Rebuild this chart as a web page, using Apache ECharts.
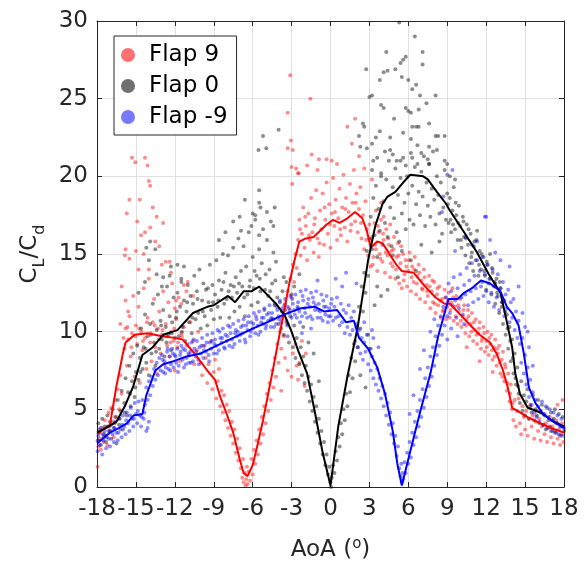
<!DOCTYPE html>
<html>
<head>
<meta charset="utf-8">
<script src="https://cdn.jsdelivr.net/npm/echarts@6/dist/echarts.min.js"></script>
<style>
html,body{margin:0;padding:0;background:#fff;}
#c{width:584px;height:570px;}
</style>
</head>
<body>
<div id="c"></div>
<script>
// ---------- DATA ----------
const xTicks = [-18,-15,-12,-9,-6,-3,0,3,6,9,12,15,18];
const yTicks = [0,5,10,15,20,25,30];
const seriesNames = ['Flap 9','Flap 0','Flap -9'];

// mean lines
const flap9Line = [[-18,3.4],[-17.5,3.7],[-17,4.0],[-16.5,6.5],[-16,8.6],[-15.8,9.3],[-15.1,9.8],[-14.1,9.9],[-13,9.7],[-12,9.6],[-11.4,9.5],[-10.4,8.5],[-9.5,7.5],[-8.9,6.9],[-8.5,5.8],[-8,4.7],[-7.5,3.5],[-7,1.8],[-6.7,0.9],[-6.4,0.7],[-6.0,1.4],[-5.6,2.8],[-5.2,4.3],[-4.8,6.0],[-4.4,7.7],[-4.0,9.5],[-3.6,11.2],[-3.2,13.0],[-2.8,14.5],[-2.4,15.8],[-1.9,16.0],[-1.3,16.1],[-0.8,16.5],[-0.3,16.9],[0.2,17.2],[0.7,17.0],[1.3,17.3],[1.9,17.7],[2.45,17.3],[2.8,16.5],[3.1,15.4],[3.6,15.8],[4.0,15.7],[4.4,15.2],[5.0,14.4],[5.5,13.9],[6.4,13.8],[6.8,13.4],[7.3,12.9],[8.1,12.2],[8.8,11.8],[9.2,11.8],[10.0,11.1],[10.8,10.4],[11.5,9.8],[12.3,9.3],[12.8,8.6],[13.3,7.5],[13.7,6.3],[14.0,5.1],[14.6,4.8],[15.2,4.5],[16.2,4.1],[17.0,3.8],[18.0,3.5]];
const flap0Line = [[-18,3.5],[-17.3,3.8],[-16.5,4.2],[-15.8,5.3],[-15.2,6.5],[-14.5,8.5],[-13.7,9.0],[-12.9,9.8],[-11.8,10.1],[-10.6,11.2],[-9.5,11.6],[-9.0,11.7],[-7.9,12.3],[-7.35,11.9],[-6.7,12.6],[-6.1,12.6],[-5.5,12.9],[-4.9,12.4],[-4.2,11.8],[-3.5,11.0],[-3.0,10.0],[-2.5,8.8],[-1.8,7.3],[-1.2,4.8],[-0.6,2.2],[0,0.1],[0.6,3.9],[1.3,7.1],[2.1,10.3],[2.6,13.0],[2.9,14.6],[3.45,16.8],[4.0,18.2],[4.4,18.7],[5.0,19.0],[5.6,19.6],[6.15,20.1],[7.15,20.0],[7.5,19.8],[8.2,19.0],[8.85,18.3],[9.2,17.8],[10.3,16.4],[11.3,15.1],[12.2,13.7],[13.1,12.5],[13.5,11.0],[14.0,9.0],[14.25,7.3],[14.6,6.0],[15.2,5.1],[16.2,4.8],[17.2,4.2],[18,3.9]];
const flapM9Line = [[-18,2.8],[-17,3.5],[-16.3,3.8],[-15.7,4.1],[-15.2,4.6],[-14.5,4.7],[-14.2,5.9],[-13.5,7.5],[-12.9,7.9],[-12.1,8.1],[-11.1,8.4],[-10.0,8.6],[-9.0,9.0],[-7.5,9.6],[-6.0,10.2],[-4.9,10.6],[-3.6,11.1],[-2.3,11.5],[-1.2,11.6],[-0.5,11.3],[0.5,11.4],[1.2,10.6],[1.8,10.7],[2.2,9.6],[2.9,8.9],[3.6,7.7],[4.2,6.0],[4.8,3.6],[5.15,1.5],[5.5,0.1],[6.15,2.3],[6.9,4.8],[7.7,7.3],[8.3,9.7],[9.1,12.1],[9.8,12.1],[10.3,12.5],[10.9,12.8],[11.6,13.3],[12.3,13.1],[13.1,12.6],[13.6,11.6],[14.0,11.2],[14.5,10.4],[14.9,8.6],[15.3,6.4],[15.8,5.4],[16.4,4.7],[17.0,4.3],[18,3.8]];

// raw measurement points
const flap9Pts = [
[-17.95,1.3],[-17.9,2.6],[-17.8,3.1],[-17.7,2.4],[-17.6,3.8],[-17.5,2.9],[-17.4,4.3],[-17.3,3.3],[-17.2,2.7],[-17.1,4.8],[-17.0,3.6],[-16.9,5.1],[-16.8,4.2],[-16.7,3.2],[-16.6,5.6],[-16.5,4.5],[-16.4,6.3],[-16.3,5.0],[-16.2,7.2],[-16.1,6.0],
[-15.9,8.9],[-15.8,10.2],[-15.7,7.8],[-15.6,9.5],[-15.5,11.0],[-15.4,8.4],[-15.3,9.9],[-15.2,12.3],[-15.1,7.1],[-15.0,10.4],[-14.9,9.2],[-14.8,11.6],[-14.7,6.7],[-14.6,10.0],[-14.5,8.8],[-14.4,12.8],[-14.3,9.6],[-14.2,7.6],[-14.1,10.9],[-14.0,13.4],[-13.9,9.3],[-13.8,8.1],[-13.7,10.6],[-13.6,12.1],[-13.5,9.0],[-13.4,7.3],[-13.3,10.2],[-13.2,11.3],[-13.1,8.6],[-13.0,9.8],[-12.9,12.6],[-12.8,7.9],[-12.7,10.5],[-12.6,9.1],[-12.5,11.9],[-12.4,8.4],[-12.3,10.0],[-12.2,13.1],[-12.1,9.4],[-12.0,7.5],[-11.9,10.8],[-11.8,9.0],[-11.7,12.2],[-11.6,8.1],[-11.5,9.9],
[-15.3,21.2],[-15.05,20.9],[-14.3,21.2],[-14.1,20.7],[-14.0,19.7],[-13.9,19.4],[-15.5,18.5],[-14.7,18.5],[-15.7,17.6],[-13.7,18.0],[-13.4,17.4],[-14.9,17.1],[-12.9,17.0],[-13.9,16.7],[-14.3,16.4],[-14.6,16.2],[-15.8,15.3],[-15.0,15.2],[-15.5,14.7],[-13.2,15.5],[-13.5,15.8],[-14.8,14.0],[-14.0,14.0],[-12.7,14.5],[-12.4,14.5],[-16.1,12.9],[-15.8,12.0],[-15.6,11.3],[-16.2,10.5],[-12.3,13.8],[-11.0,13.2],[-11.1,12.6],[-11.5,11.8],[-12.0,11.5],[-11.9,12.0],[-15.85,14.9],[-14.4,15.0],[-13.0,14.3],[-11.3,13.0],[-10.6,12.3],
[-11.3,10.3],[-11.1,9.1],[-10.9,8.5],[-10.8,10.6],[-10.6,9.4],[-10.5,7.9],[-10.3,8.8],[-10.2,10.0],[-10.0,8.0],[-9.9,7.2],[-9.8,9.1],[-9.6,8.3],[-9.5,6.7],[-9.4,7.9],[-9.2,9.4],[-9.1,6.3],[-9.0,7.4],[-8.9,8.2],[-8.8,5.7],[-8.7,6.8],[-8.6,7.6],[-8.5,5.2],[-8.4,6.2],[-8.3,4.8],[-8.2,5.9],[-8.1,4.3],[-8.0,5.3],[-7.9,3.8],[-7.8,4.9],[-7.7,3.3],[-7.6,4.2],[-7.5,2.8],[-7.4,3.7],[-7.3,2.2],[-7.2,3.1],[-7.1,1.7],[-7.0,2.5],[-6.9,1.2],[-6.8,0.6],[-6.75,1.8],[-6.7,0.3],[-6.6,0.9],[-6.55,0.1],[-6.5,0.5],[-6.45,1.3],[-6.4,0.2],
[-6.3,1.0],[-6.2,0.4],[-6.1,1.8],[-6.0,0.8],[-5.9,2.4],[-5.8,1.5],[-5.7,3.0],[-5.6,2.1],[-5.5,3.7],[-5.4,2.8],[-5.3,4.5],[-5.2,3.4],[-5.1,5.2],[-5.0,4.1],[-4.9,6.0],[-4.8,4.9],[-4.7,6.7],[-4.6,5.6],[-4.5,7.5],[-4.4,6.4],[-4.3,8.3],[-4.2,7.1],[-4.1,9.2],[-4.0,8.0],[-3.9,10.0],[-3.8,8.9],[-3.7,10.9],[-3.6,9.7],[-3.5,11.8],[-3.4,10.6],[-3.3,12.6],[-3.2,11.5],[-3.1,13.4],[-3.0,12.2],[-2.9,14.3],[-2.8,13.2],[-2.7,15.0],[-2.6,14.1],[-2.5,15.9],
[-3.3,7.5],[-2.9,8.6],[-2.5,6.9],[-3.8,6.2],[-2.2,9.4],[-2.6,7.8],[-3.5,8.3],[-3.0,7.1],[-2.4,8.0],[-2.0,6.5],[-1.9,8.6],[-2.7,9.2],
[-2.4,17.2],[-2.3,14.9],[-2.2,16.3],[-2.1,18.0],[-2.0,15.4],[-1.9,16.8],[-1.8,14.6],[-1.7,17.6],[-1.6,15.9],[-1.5,18.6],[-1.4,16.4],[-1.3,15.1],[-1.2,17.3],[-1.1,19.1],[-1.0,16.0],[-0.9,14.8],[-0.8,17.8],[-0.7,16.6],[-0.6,18.9],[-0.5,15.6],[-0.4,17.2],[-0.3,19.6],[-0.2,16.3],[-0.1,18.2],[0.0,15.4],[0.1,17.6],[0.2,19.9],[0.3,16.8],[0.4,18.5],[0.5,15.9],[0.6,17.3],[0.7,19.2],[0.8,16.2],[0.9,18.0],[1.0,20.1],[1.1,16.7],[1.2,18.6],[1.3,15.8],[1.4,17.7],[1.5,19.5],[1.6,16.9],[1.7,18.3],[1.8,20.4],[1.9,17.1],[2.0,18.9],[2.1,16.4],[2.2,17.9],[2.3,19.3],[2.4,16.0],[2.5,17.5],[2.6,15.3],[2.7,18.4],[2.8,16.6],[2.9,14.9],[3.0,16.9],
[-3.1,26.5],[-3.3,24.1],[-3.05,22.3],[-2.9,21.7],[-2.65,20.5],[-2.5,20.2],[-2.95,19.5],[-1.55,25.0],[1.9,23.7],[1.3,23.2],[1.65,22.1],[2.2,21.3],[-1.45,21.4],[-0.3,21.1],[-1.8,20.7],[-0.9,21.1],[-2.45,20.2],[-3.0,20.6],[-3.3,21.8],[0.5,20.8],[-1.0,20.4],[2.6,20.5],[3.2,19.8],[0.1,21.0],
[3.1,14.2],[3.2,16.1],[3.3,14.8],[3.4,17.0],[3.5,15.3],[3.6,13.9],[3.7,16.4],[3.8,15.0],[3.9,17.2],[4.0,14.5],[4.1,15.9],[4.2,13.8],[4.3,16.6],[4.4,14.9],[4.5,15.6],[4.6,13.5],[4.7,15.2],[4.8,14.2],[4.9,16.1],[5.0,13.4],[5.1,14.8],[5.2,15.7],[5.3,13.1],[5.4,14.4],[5.5,12.8],[5.6,15.0],[5.7,13.7],[5.8,14.6],[5.9,12.9],[6.0,13.9],[6.1,15.1],[6.2,12.6],[6.3,14.2],[6.4,13.2],[6.5,14.8],[6.6,12.4],[6.7,13.6],[6.8,14.3],[6.9,12.1],[7.0,13.3],[7.1,12.7],[7.2,14.0],[7.3,11.9],[7.4,13.0],[7.5,12.3],[7.6,13.6],[7.7,11.5],[7.8,12.6],[7.9,11.9],[8.0,13.2],[8.1,11.2],[8.2,12.4],[8.3,11.7],[8.4,12.9],[8.5,10.9],[8.6,12.1],[8.7,11.4],[8.8,12.7],[8.9,10.8],[9.0,11.6],
[3.5,17.8],[4.1,17.4],[4.6,16.9],[3.9,18.3],
[9.1,12.5],[9.2,10.9],[9.3,11.9],[9.4,12.8],[9.5,10.7],[9.6,11.6],[9.7,12.3],[9.8,10.5],[9.9,11.3],[10.0,12.1],[10.1,10.3],[10.2,11.0],[10.3,11.7],[10.4,9.9],[10.5,10.8],[10.6,11.4],[10.7,9.7],[10.8,10.5],[10.9,11.2],[11.0,9.4],[11.1,10.1],[11.2,10.8],[11.3,9.2],[11.4,9.9],[11.5,10.6],[11.6,8.9],[11.7,9.6],[11.8,10.3],[11.9,8.7],[12.0,9.4],[12.1,10.0],[12.2,8.5],[12.3,9.2],[12.4,9.8],[12.5,8.2],[12.6,9.0],[12.7,9.5],[12.8,7.8],[12.9,8.6],[13.0,9.1],[13.1,7.3],[13.2,8.2],[13.3,8.7],[13.4,6.8],[13.5,7.7],[13.6,6.2],[13.7,7.3],[13.8,5.5],[13.9,6.6],[14.0,5.0],
[11.5,8.1],[12.5,7.4],[10.5,9.0],
[14.1,4.3],[14.2,5.6],[14.3,3.9],[14.4,4.9],[14.5,5.7],[14.6,4.1],[14.7,3.4],[14.8,5.2],[14.9,4.5],[15.0,3.7],[15.1,4.9],[15.2,3.3],[15.3,4.4],[15.4,5.3],[15.5,3.9],[15.6,4.6],[15.7,3.1],[15.8,4.2],[15.9,4.9],[16.0,3.6],[16.1,4.4],[16.2,3.0],[16.3,3.9],[16.4,4.7],[16.5,3.4],[16.6,4.1],[16.7,2.9],[16.8,3.8],[16.9,4.5],[17.0,3.2],[17.1,3.9],[17.2,2.8],[17.3,3.6],[17.4,4.3],[17.5,3.1],[17.6,3.7],[17.7,2.7],[17.8,3.4],[17.9,5.6],[17.95,2.9],[17.85,4.1],[17.5,5.3]
];
const flap9PtsExtra = [
[-15.95,9.6],[-15.65,10.3],[-15.35,9.0],[-15.05,9.7],[-14.75,10.2],[-14.45,9.4],[-14.15,10.6],[-13.85,9.9],[-13.55,10.4],[-13.25,9.5],[-12.95,10.1],[-12.65,9.7],[-12.35,9.3],[-12.05,10.2],[-11.75,9.3],[-11.45,9.7],
[-2.35,16.6],[-1.95,17.4],[-1.65,16.2],[-1.25,16.9],[-0.85,15.7],[-0.45,18.0],[-0.05,16.9],[0.35,17.7],[0.75,16.6],[1.15,17.9],[1.55,16.5],[1.95,18.3],[2.35,17.0],[2.75,15.9],
[3.05,15.9],[3.25,14.3],[3.45,15.6],[3.65,16.8],[3.85,14.7],[4.05,16.3],[4.25,15.1],[4.45,16.0],[4.65,14.4],[4.85,15.3],[5.05,14.0],[5.25,14.9],[5.45,15.5],[5.65,13.3],[5.85,14.2],[6.05,14.6],[6.25,13.5],[6.45,14.0],[6.65,13.1],[6.85,13.8],[7.05,12.8],[7.25,13.5],[7.45,12.6],[7.65,12.9],[7.85,13.3],[8.05,11.8],[8.25,12.8],[8.45,12.0],[8.65,11.3],[8.85,12.2],[9.05,12.0],[9.25,11.4],[9.45,12.2],[9.65,11.0],[9.85,11.7],[10.05,10.7],[10.25,11.4],[10.45,10.4],[10.65,11.0],[10.85,10.0],[11.05,10.6],[11.25,9.8],[11.45,10.2],[11.65,9.4],[11.85,9.9],[12.05,9.0],[12.25,9.6],[12.45,8.8],[12.65,8.4],[12.85,8.9],[13.05,8.0],[13.25,7.1],[13.45,7.9],[13.65,6.7],[13.85,6.0],[14.05,5.4]
];

const flap0Pts = [
[-17.95,3.0],[-17.9,4.1],[-17.8,3.5],[-17.7,2.7],[-17.6,4.4],[-17.5,3.2],[-17.4,3.9],[-17.3,2.9],[-17.2,4.6],[-17.1,3.6],[-17.0,4.2],[-16.9,3.1],[-16.8,5.0],[-16.7,3.8],[-16.6,4.5],[-16.5,2.8],[-16.4,5.6],[-16.3,4.0],[-16.2,4.9],[-16.1,6.2],[-16.0,3.7],[-15.9,5.4],[-15.8,7.0],[-15.7,4.6],[-15.6,6.1],[-15.5,7.8],[-15.4,5.2],[-15.3,6.8],[-15.2,8.6],[-15.1,5.8],[-15.0,7.4],
[-14.9,9.1],[-14.8,6.9],[-14.7,8.3],[-14.6,10.2],[-14.5,7.6],[-14.4,9.0],[-14.3,11.1],[-14.2,8.0],[-14.1,9.7],[-14.0,7.2],[-13.9,10.5],[-13.8,8.6],[-13.7,11.8],[-13.6,9.3],[-13.5,7.8],[-13.4,10.1],[-13.3,12.4],[-13.2,8.9],[-13.1,10.7],[-13.0,9.5],[-12.9,11.4],[-12.8,8.4],[-12.7,10.3],[-12.6,12.9],[-12.5,9.8],[-12.4,11.0],[-12.3,8.8],[-12.2,10.6],[-12.1,12.2],[-12.0,9.6],
[-13.9,15.8],[-14.2,15.4],[-13.5,15.3],[-14.0,14.6],[-12.3,14.2],[-12.9,13.5],[-11.3,14.2],[-14.3,13.2],[-13.4,13.7],[-11.8,14.3],[-12.4,13.6],[-14.8,12.5],[-13.0,12.9],[-11.5,13.2],
[-11.9,10.9],[-11.8,12.5],[-11.7,9.7],[-11.6,11.6],[-11.5,13.4],[-11.4,10.3],[-11.3,12.0],[-11.2,9.4],[-11.1,11.3],[-11.0,13.0],[-10.9,10.6],[-10.8,12.3],[-10.7,9.9],[-10.6,11.8],[-10.5,13.6],[-10.4,10.8],[-10.3,12.6],[-10.2,11.2],[-10.1,14.0],[-10.0,10.2],[-9.9,12.0],[-9.8,13.1],[-9.7,11.0],[-9.6,12.7],[-9.5,10.4],[-9.4,11.9],[-9.3,14.3],[-9.2,11.4],[-9.1,13.0],[-9.0,10.8],[-8.9,12.4],[-8.8,14.6],[-8.7,11.6],[-8.6,13.3],[-8.5,10.9],[-8.4,12.7],[-8.3,15.0],[-8.2,11.8],[-8.1,13.8],[-8.0,12.1],[-7.9,14.9],[-7.8,10.9],[-7.7,13.0],[-7.6,12.2],[-7.5,15.4],[-7.4,11.3],[-7.3,13.5],[-7.2,12.5],[-7.1,16.0],[-7.0,11.6],[-6.9,13.9],[-6.8,12.9],[-6.7,15.5],[-6.6,11.0],[-6.5,14.2],[-6.4,12.4],[-6.3,16.4],[-6.2,13.3],[-6.1,11.7],[-6.0,14.8],[-5.9,12.8],[-5.8,17.2],[-5.7,13.6],[-5.6,11.9],[-5.5,15.3],[-5.4,12.6],[-5.3,14.4],[-5.2,16.6],[-5.1,11.4],[-5.0,13.7],[-4.9,15.9],[-4.8,12.3],[-4.7,14.0],[-4.6,10.8],[-4.5,13.1],[-4.4,15.1],[-4.3,11.7],[-4.2,14.5],[-4.1,12.2],[-4.0,10.5],
[-5.2,22.6],[-5.55,21.7],[-4.95,21.8],[-4.0,23.0],[-6.6,18.5],[-5.5,19.1],[-5.5,18.3],[-4.9,17.7],[-4.3,18.0],[-6.0,17.6],[-5.4,18.0],[-4.6,17.1],[-4.4,16.8],[-6.1,16.8],[-7.0,17.4],[-7.5,17.1],[-8.1,16.4],[-8.6,15.9],[-6.9,16.5],[-5.5,16.2],[-5.8,17.5],
[-3.9,11.9],[-3.8,10.2],[-3.7,12.6],[-3.6,9.8],[-3.5,11.4],[-3.4,13.2],[-3.3,10.5],[-3.2,9.3],[-3.1,11.0],[-3.0,12.4],[-2.9,9.0],[-2.8,10.4],[-2.7,8.3],[-2.6,9.6],[-2.5,11.5],[-2.4,7.9],[-2.3,9.0],[-2.2,7.2],[-2.1,8.4],[-2.0,6.7],[-1.9,7.8],[-1.8,6.2],[-1.7,7.1],[-1.6,5.5],[-1.5,6.6],[-1.4,4.9],[-1.3,5.8],[-1.2,4.2],[-1.1,5.2],[-1.0,3.5],[-0.9,4.4],[-0.8,2.8],[-0.7,3.6],[-0.6,2.1],[-0.5,2.9],[-0.4,1.4],[-0.3,2.1],[-0.2,0.8],[-0.1,1.3],[0.0,0.3],[0.05,0.0],
[-3.6,13.5],[-2.8,12.9],[-2.4,13.7],[-1.7,9.3],[-1.3,8.6],[-2.1,10.3],[-0.9,6.8],
[0.1,0.6],[0.2,1.4],[0.3,0.9],[0.4,2.3],[0.5,1.7],[0.6,3.2],[0.7,2.6],[0.8,4.1],[0.9,3.4],[1.0,5.0],[1.1,4.3],[1.2,6.0],[1.3,5.2],[1.4,7.2],[1.5,6.1],[1.6,8.3],[1.7,7.0],[1.8,9.2],[1.9,8.1],[2.0,10.3],[2.1,9.0],[2.2,11.6],[2.3,10.2],[2.4,12.9],[2.5,11.3],[2.6,13.8],[2.7,12.5],[2.8,15.2],[2.9,13.6],[3.0,16.0],
[2.3,7.2],[2.7,6.4],[3.1,8.9],[2.9,9.8],[3.4,11.7],[3.6,12.9],[3.9,12.3],[4.4,12.7],
[3.1,17.4],[3.2,15.3],[3.3,18.6],[3.4,16.2],[3.5,19.4],[3.6,14.8],[3.7,17.9],[3.8,16.5],[3.9,20.2],[4.0,15.6],[4.1,18.4],[4.2,17.0],[4.3,19.8],[4.4,16.1],[4.5,21.0],[4.6,18.0],[4.7,15.5],[4.8,19.3],[4.9,17.3],[5.0,20.5],[5.1,16.4],[5.2,18.8],[5.3,15.8],[5.4,19.9],[5.5,17.6],[5.6,21.2],[5.7,18.3],[5.8,16.6],[5.9,20.0],[6.0,18.9],[6.1,17.2],[6.2,21.5],[6.3,19.4],[6.4,16.9],[6.5,20.6],[6.6,18.2],[6.7,22.0],[6.8,19.0],[6.9,17.5],[7.0,20.3],[7.1,18.7],[7.2,21.3],[7.3,16.8],[7.4,19.6],[7.5,18.1],[7.6,20.8],[7.7,17.4],[7.8,19.2],[7.9,21.6],[8.0,18.5],[8.1,16.9],[8.2,20.0],[8.3,18.8],[8.4,17.6],[8.5,19.6],[8.6,16.3],[8.7,18.0],[8.8,20.4],[8.9,17.2],[9.0,18.9],
[5.3,29.9],[6.5,29.0],[4.3,28.0],[7.1,28.0],[5.8,27.7],[5.6,27.5],[5.4,27.3],[2.75,26.9],[4.1,26.7],[4.4,26.8],[5.0,26.9],[5.5,26.4],[6.0,26.2],[3.8,26.2],[7.1,27.2],[6.6,25.9],[6.3,25.6],[6.9,25.2],[7.4,24.7],[8.1,25.2],[3.0,25.1],[3.2,25.2],[6.8,24.3],[3.9,24.6],[4.1,24.4],[5.8,24.4],[6.0,24.2],[6.2,24.1],[4.9,23.7],[7.6,23.4],[2.5,23.4],[2.6,23.2],[6.3,23.2],[6.6,23.2],[6.8,23.2],[5.6,22.8],[3.8,22.9],[3.5,22.5],[4.6,22.5],[8.1,22.6],[8.3,22.6],[8.8,22.6],[2.2,22.6],[6.2,22.4],[2.3,21.9],[3.2,22.1],[2.8,21.8],[7.6,21.9],[4.6,21.7],[4.2,21.6],[3.6,21.2],[4.8,21.4],[5.1,21.0],[8.2,21.7],[8.8,21.0],[9.0,20.8],[3.3,21.0],[5.4,21.0],[5.8,20.7],[6.3,21.2],[6.7,20.8],[7.0,21.5],[7.5,21.1],[7.6,20.8],[3.9,20.0],[3.2,20.4],
[4.8,14.9],[5.5,15.2],[6.2,14.6],[7.0,15.6],[7.8,15.1],[8.4,15.8],[6.6,13.9],[5.2,13.5],
[9.1,17.0],[9.2,18.6],[9.3,16.4],[9.4,17.8],[9.5,19.3],[9.6,16.6],[9.7,17.5],[9.8,15.9],[9.9,18.1],[10.0,16.8],[10.1,15.4],[10.2,17.4],[10.3,16.1],[10.4,14.9],[10.5,16.9],[10.6,15.6],[10.7,14.4],[10.8,16.3],[10.9,15.1],[11.0,13.9],[11.1,15.8],[11.2,14.6],[11.3,16.5],[11.4,13.6],[11.5,15.2],[11.6,14.0],[11.7,13.2],[11.8,14.8],[11.9,13.6],[12.0,12.7],[12.1,14.3],[12.2,13.1],[12.3,15.0],[12.4,12.4],[12.5,13.8],[12.6,12.9],[12.7,11.8],[12.8,13.4],[12.9,12.3],[13.0,11.2],[13.1,12.8],[13.2,11.6],[13.3,10.5],[13.4,12.0],[13.5,9.8],[13.6,11.1],[13.7,8.9],[13.8,10.3],[13.9,8.1],[14.0,9.5],[14.1,7.3],[14.2,8.6],[14.3,6.6],[14.4,7.7],[14.5,6.0],
[9.2,20.0],[9.6,19.8],
[14.6,5.4],[14.7,6.8],[14.8,4.9],[14.9,5.9],[15.0,4.6],[15.1,5.5],[15.2,6.3],[15.3,4.4],[15.4,5.2],[15.5,4.8],[15.6,5.9],[15.7,4.3],[15.8,5.0],[15.9,4.6],[16.0,5.6],[16.1,4.1],[16.2,4.8],[16.3,5.3],[16.4,4.0],[16.5,4.6],[16.6,3.7],[16.7,5.1],[16.8,4.3],[16.9,3.9],[17.0,4.8],[17.1,3.6],[17.2,4.4],[17.3,5.0],[17.4,3.5],[17.5,4.1],[17.6,4.7],[17.7,3.3],[17.8,3.9],[17.9,4.5],[18.0,3.6]
];
const flap0PtsExtra = [
[-17.85,3.7],[-17.45,3.4],[-17.05,3.9],[-16.65,4.1],[-16.25,4.4],[-15.85,4.8],[-15.45,6.0],[-15.05,6.4],[-14.65,7.4],[-14.25,8.9],[-13.85,9.8],[-13.45,8.7],[-13.05,10.4],[-12.65,9.3],[-12.25,9.9],[-11.85,11.3],[-11.45,10.0],[-11.05,11.9],[-10.65,10.9],[-10.25,12.1],[-9.85,11.3],[-9.45,12.8],[-9.05,11.9],[-8.65,12.0],[-8.25,13.2],[-7.85,12.6],[-7.45,12.9],[-7.05,13.1],[-6.65,12.2],[-6.25,12.9],[-5.85,13.9],[-5.45,13.4],[-5.05,12.7],[-4.65,12.6],[-4.25,13.3],
[9.05,18.2],[9.25,17.2],[9.45,16.9],[9.65,18.3],[9.85,17.0],[10.05,15.9],[10.25,17.1],[10.45,16.0],[10.65,16.6],[10.85,14.8],[11.05,15.5],[11.25,15.9],[11.45,14.3],[11.65,15.0],[11.85,13.9],[12.05,14.5],[12.25,13.4],[12.45,14.1],[12.65,13.2],[12.85,12.5],[13.05,13.2],[13.25,11.9],[13.45,11.3],[13.65,10.2],[13.85,9.4],[14.05,8.3],[14.25,7.0],[14.45,6.5]
];

const flapM9Pts = [
[-17.95,2.3],[-17.9,3.3],[-17.8,2.7],[-17.7,3.8],[-17.6,2.1],[-17.5,3.0],[-17.4,3.6],[-17.3,2.5],[-17.2,3.9],[-17.1,3.1],[-17.0,2.6],[-16.9,4.0],[-16.8,3.4],[-16.7,2.9],[-16.6,4.2],[-16.5,3.5],[-16.4,3.0],[-16.3,4.4],[-16.2,3.7],[-16.1,3.2],[-16.0,4.6],[-15.9,3.9],[-15.8,3.4],[-15.7,4.8],[-15.6,4.1],[-15.5,3.6],[-15.4,5.1],[-15.3,4.4],[-15.2,3.9],[-15.1,5.4],[-15.0,4.7],[-14.9,4.1],[-14.8,5.5],[-14.7,4.6],[-14.6,3.9],[-14.5,5.6],[-14.4,4.4],[-14.3,5.3],
[-14.1,3.8],[-14.0,4.2],[-14.2,3.6],
[-14.2,6.4],[-14.1,5.6],[-14.0,6.8],[-13.9,5.9],[-13.8,7.1],[-13.7,6.5],[-13.6,7.6],[-13.5,6.9],[-13.4,8.0],[-13.3,7.2],[-13.2,8.3],[-13.1,7.5],[-13.0,8.5],[-12.9,7.4],[-12.8,8.1],[-12.7,7.7],[-12.6,8.7],[-12.5,7.6],[-12.4,8.4],[-12.3,7.9],[-12.2,8.9],[-12.1,7.7],[-12.0,8.5],
[-11.9,8.0],[-11.8,8.9],[-11.7,7.8],[-11.6,8.5],[-11.5,9.1],[-11.4,8.2],[-11.3,7.7],[-11.2,8.8],[-11.1,8.3],[-11.0,9.2],[-10.9,8.0],[-10.8,8.7],[-10.7,9.3],[-10.6,8.1],[-10.5,8.9],[-10.4,8.4],[-10.3,9.4],[-10.2,8.2],[-10.1,9.0],[-10.0,8.6],[-9.9,9.6],[-9.8,8.3],[-9.7,9.1],[-9.6,8.7],[-9.5,9.8],[-9.4,8.5],[-9.3,9.3],[-9.2,8.9],[-9.1,9.9],[-9.0,8.6],[-8.9,9.5],[-8.8,9.1],[-8.7,10.1],[-8.6,8.8],[-8.5,9.6],[-8.4,9.3],[-8.3,10.2],[-8.2,9.0],[-8.1,9.8],[-8.0,9.4],[-7.9,10.4],[-7.8,9.1],[-7.7,9.9],[-7.6,9.5],[-7.5,10.5],[-7.4,9.2],[-7.3,10.1],[-7.2,9.7],[-7.1,10.7],[-7.0,9.4],[-6.9,10.3],[-6.8,9.9],[-6.7,10.8],[-6.6,9.5],[-6.5,10.4],[-6.4,10.1],[-6.3,11.0],[-6.2,9.7],[-6.1,10.6],[-6.0,10.2],[-5.9,11.2],[-5.8,9.9],[-5.7,10.8],[-5.6,10.4],[-5.5,11.3],[-5.4,10.0],[-5.3,10.9],[-5.2,10.5],[-5.1,11.5],[-5.0,10.2],[-4.9,11.1],[-4.8,10.7],[-4.7,11.7],[-4.6,10.3],[-4.5,11.2],[-4.4,10.8],[-4.3,11.8],[-4.2,10.5],[-4.1,11.4],[-4.0,11.0],[-3.9,12.0],[-3.8,10.6],[-3.7,11.5],[-3.6,11.1],[-3.5,12.1],[-3.4,10.7],[-3.3,11.6],[-3.2,11.2],[-3.1,12.3],[-3.0,10.9],[-2.9,11.8],[-2.8,11.4],[-2.7,12.4],[-2.6,10.9],[-2.5,11.9],[-2.4,11.3],[-2.3,12.6],[-2.2,11.0],[-2.1,12.0],[-2.0,11.5],[-1.9,12.7],[-1.8,10.9],[-1.7,12.1],[-1.6,11.6],[-1.5,12.5],[-1.4,10.8],[-1.3,11.9],[-1.2,11.4],[-1.1,12.6],[-1.0,10.9],[-0.9,11.8],[-0.8,11.3],[-0.7,12.4],[-0.6,10.7],[-0.5,11.6],[-0.4,11.1],[-0.3,12.3],[-0.2,10.6],[-0.1,11.5],[0.0,11.0],
[0.4,13.4],[1.2,13.8],[2.0,13.1],[-1.0,13.3],[0.9,12.9],[-3.3,9.7],[-2.2,9.9],[-1.5,10.2],
[0.1,12.1],[0.2,10.7],[0.3,11.6],[0.4,10.9],[0.5,12.2],[0.6,11.0],[0.7,10.4],[0.8,11.8],[0.9,10.6],[1.0,11.4],[1.1,9.9],[1.2,11.2],[1.3,10.3],[1.4,11.7],[1.5,9.8],[1.6,10.9],[1.7,10.1],[1.8,11.3],[1.9,9.4],[2.0,10.5],[2.1,9.0],[2.2,10.1],[2.3,8.6],[2.4,9.6],[2.5,8.2],[2.6,9.3],[2.7,8.7],[2.8,9.8],[2.9,7.9],[3.0,8.9],[3.1,7.5],[3.2,8.4],[3.3,7.0],[3.4,8.0],[3.5,6.6],[3.6,7.6],[3.7,6.2],[3.8,7.0],[3.9,5.7],[4.0,6.5],[4.1,5.2],[4.2,6.0],[4.3,4.6],[4.4,5.4],[4.5,4.0],[4.6,4.8],[4.7,3.4],[4.8,4.1],[4.9,2.8],[5.0,3.3],[5.1,2.0],[5.2,2.6],[5.3,1.2],[5.4,0.7],[5.45,1.5],[5.5,0.3],[5.55,0.9],
[2.6,10.6],[3.2,10.1],[3.7,9.0],[3.3,9.6],
[5.6,0.5],[5.7,1.6],[5.8,0.9],[5.9,2.2],[6.0,1.5],[6.1,2.9],[6.2,1.9],[6.3,3.5],[6.4,2.7],[6.5,4.2],[6.6,3.2],[6.7,4.9],[6.8,3.9],[6.9,5.6],[7.0,4.5],[7.1,6.3],[7.2,5.1],[7.3,7.0],[7.4,5.8],[7.5,7.7],[7.6,6.5],[7.7,8.4],[7.8,7.1],[7.9,9.0],[8.0,7.8],[8.1,9.7],[8.2,8.5],[8.3,10.4],[8.4,9.1],[8.5,11.0],[8.6,9.8],[8.7,11.6],[8.8,10.4],[8.9,12.2],[9.0,11.0],
[6.4,5.9],[6.9,7.6],[7.2,8.8],[6.1,4.7],[7.7,10.0],[8.0,10.8],
[9.1,13.1],[9.2,11.2],[9.3,12.6],[9.4,11.7],[9.5,13.5],[9.6,12.0],[9.7,10.9],[9.8,12.8],[9.9,11.5],[10.0,13.7],[10.1,12.2],[10.2,11.1],[10.3,13.0],[10.4,12.4],[10.5,14.1],[10.6,11.7],[10.7,13.3],[10.8,12.6],[10.9,14.4],[11.0,11.9],[11.1,13.6],[11.2,12.8],[11.3,14.6],[11.4,12.1],[11.5,13.9],[11.6,12.9],[11.7,14.8],[11.8,12.3],[11.9,13.7],[12.0,12.6],[12.1,14.3],[12.2,11.9],[12.3,13.4],[12.4,12.5],[12.5,14.0],[12.6,11.6],[12.7,13.1],[12.8,12.2],[12.9,13.7],[13.0,11.4],[13.1,12.8],[13.2,11.9],[13.3,13.2],[13.4,11.0],[13.5,12.4],[13.6,11.5],[13.7,12.7],[13.8,10.6],[13.9,11.9],[14.0,10.9],[14.1,12.1],[14.2,10.1],[14.3,11.3],[14.4,9.6],[14.5,10.7],
[9.4,20.4],[9.0,20.1],[8.7,18.7],[12.0,17.4],[11.3,15.8],[12.3,15.9],[11.9,17.4],[8.6,17.7],[10.4,16.1],[10.9,15.6],[9.6,15.2],[12.7,15.1],[13.1,14.6],[13.8,14.2],[14.5,12.9],
[9.3,10.2],[9.8,9.7],[10.3,10.5],[9.0,9.5],
[14.6,9.2],[14.7,8.0],[14.8,9.6],[14.9,7.3],[15.0,8.5],[15.1,6.6],[15.2,7.7],[15.3,5.8],[15.4,6.9],[15.5,5.3],[15.6,6.1],[15.7,4.8],[15.8,5.6],[15.9,4.5],[16.0,5.2],[16.1,4.2],[16.2,4.9],[16.3,5.5],[16.4,4.0],[16.5,4.7],[16.6,5.2],[16.7,3.8],[16.8,4.5],[16.9,5.0],[17.0,3.6],[17.1,4.3],[17.2,4.8],[17.3,3.5],[17.4,4.1],[17.5,4.6],[17.6,3.4],[17.7,3.9],[17.8,4.4],[17.9,3.3],[18.0,3.8],
[15.0,10.3],[15.3,9.0],[14.8,11.2],[15.6,7.8],[15.2,10.0]
];
const flapM9PtsExtra = [
[-17.85,3.0],[-17.55,3.4],[-17.25,3.2],[-16.95,3.6],[-16.65,3.8],[-16.35,3.5],[-16.05,4.0],[-15.75,4.3],[-15.45,4.6],[-15.15,4.4],[-14.85,4.9],[-14.55,4.5],[-14.35,4.8],
[-12.95,8.2],[-12.75,7.3],[-12.55,8.9],[-12.35,7.5],[-12.15,8.6],[-11.95,8.4],[-11.75,7.4],[-11.55,8.7],[-11.35,8.9],[-11.15,7.9],[-10.95,8.6],[-10.75,8.0],[-10.55,9.5],[-10.35,8.7],[-10.15,7.9],[-9.95,9.1],[-9.75,8.8],[-9.55,9.3],[-9.35,8.1],[-9.15,9.4],[-8.95,9.2],[-8.75,8.6],[-8.55,10.0],[-8.35,9.6],[-8.15,8.9],[-7.95,9.7],[-7.75,10.3],[-7.55,9.0],[-7.35,9.9],[-7.15,10.0],[-6.95,9.8],[-6.75,10.4],[-6.55,9.3],[-6.35,10.6],[-6.15,10.0],[-5.95,10.5],[-5.75,11.0],[-5.55,9.8],[-5.35,10.6],[-5.15,10.9],[-4.95,10.4],[-4.75,11.2],[-4.55,10.9],[-4.35,10.3],[-4.15,11.6],[-3.95,10.8],[-3.75,11.3],[-3.55,11.7],[-3.35,10.4],[-3.15,11.4],[-2.95,12.1],[-2.75,11.1],[-2.55,11.6],[-2.35,10.6],[-2.15,12.3],[-1.95,11.2],[-1.75,11.8],[-1.55,11.0],[-1.35,12.2],[-1.15,11.7],[-0.95,11.4],[-0.75,10.9],[-0.55,12.0],[-0.35,11.6],[-0.15,11.0],[0.05,11.8]
];

// ---------- CHART ----------
const FONT = 'DejaVu Sans';
const AX = '#262626';
const chart = echarts.init(document.getElementById('c'), null, {renderer: 'canvas'});

const baseAxis = {
  axisLine: {show: true, onZero: false, lineStyle: {color: AX, width: 1}},
  axisTick: {show: true, inside: true, length: 5, lineStyle: {color: AX}},
  splitLine: {show: false}
};

chart.setOption({
  animation: false,
  backgroundColor: '#ffffff',
  textStyle: {fontFamily: FONT},
  grid: {left: 97, right: 20, top: 21, bottom: 83, containLabel: false},
  legend: {
    orient: 'vertical',
    left: 114, top: 36,
    padding: [7, 9, 6, 7],
    itemWidth: 32, itemHeight: 14, itemGap: 7,
    backgroundColor: '#ffffff',
    borderColor: AX, borderWidth: 1, borderRadius: 0,
    textStyle: {fontFamily: FONT, fontSize: 23, color: '#000', lineHeight: 24},
    data: [
      {name: seriesNames[0], icon: 'circle', itemStyle: {color: '#ff7070', opacity: 1}},
      {name: seriesNames[1], icon: 'circle', itemStyle: {color: '#707070', opacity: 1}},
      {name: seriesNames[2], icon: 'circle', itemStyle: {color: '#7878ff', opacity: 1}}
    ]
  },
  xAxis: [
    Object.assign({}, baseAxis, {
      type: 'value', min: xTicks[0], max: xTicks[xTicks.length - 1], interval: 3, position: 'bottom',
      splitLine: {show: true, lineStyle: {color: '#e0e0e0', width: 1}},
      axisLabel: {show: true, margin: 11, fontSize: 23, fontFamily: FONT, color: AX,
        formatter: v => String(xTicks[xTicks.indexOf(v)])},
      name: '{m|AoA (}{sup|o}{m|)}',
      nameLocation: 'middle', nameGap: 50,
      nameTextStyle: {rich: {
        m: {fontSize: 23, fontFamily: FONT, color: AX, verticalAlign: 'bottom'},
        sup: {fontSize: 15, fontFamily: FONT, color: AX, verticalAlign: 'bottom', padding: [0, 0, 10, 0]}
      }}
    }),
    Object.assign({}, baseAxis, {
      type: 'value', min: xTicks[0], max: xTicks[xTicks.length - 1], interval: 3, position: 'top',
      axisLabel: {show: false}
    })
  ],
  yAxis: [
    Object.assign({}, baseAxis, {
      type: 'value', min: yTicks[0], max: yTicks[yTicks.length - 1], interval: 5, position: 'left',
      splitLine: {show: true, lineStyle: {color: '#e0e0e0', width: 1}},
      axisLabel: {show: true, margin: 9, fontSize: 23, fontFamily: FONT, color: AX,
        formatter: v => String(yTicks[yTicks.indexOf(v)])},
      name: '{m|C}{s|L}{m|/C}{s|d}',
      nameLocation: 'middle', nameGap: 46, nameRotate: 90,
      nameTextStyle: {rich: {
        m: {fontSize: 23, fontFamily: FONT, color: AX, verticalAlign: 'bottom', padding: [0, 0, 6, 0]},
        s: {fontSize: 16, fontFamily: FONT, color: AX, verticalAlign: 'bottom'}
      }}
    }),
    Object.assign({}, baseAxis, {
      type: 'value', min: yTicks[0], max: yTicks[yTicks.length - 1], interval: 5, position: 'right',
      axisLabel: {show: false}
    })
  ],
  series: [
    {name: seriesNames[0], type: 'scatter', data: flap9Pts.concat(flap9PtsExtra), symbol: 'circle', symbolSize: 4,
      itemStyle: {color: '#ff0000', opacity: 0.45}, z: 2},
    {name: seriesNames[1], type: 'scatter', data: flap0Pts.concat(flap0PtsExtra), symbol: 'circle', symbolSize: 4,
      itemStyle: {color: '#000000', opacity: 0.45}, z: 2},
    {name: seriesNames[2], type: 'scatter', data: flapM9Pts.concat(flapM9PtsExtra), symbol: 'circle', symbolSize: 4,
      itemStyle: {color: '#0000ff', opacity: 0.45}, z: 2},
    {name: 'Flap 9 mean', type: 'line', data: flap9Line, showSymbol: false, symbol: 'none',
      lineStyle: {color: '#ff0000', width: 2}, z: 3},
    {name: 'Flap 0 mean', type: 'line', data: flap0Line, showSymbol: false, symbol: 'none',
      lineStyle: {color: '#000000', width: 2}, z: 3},
    {name: 'Flap -9 mean', type: 'line', data: flapM9Line, showSymbol: false, symbol: 'none',
      lineStyle: {color: '#0000ff', width: 2}, z: 3}
  ]
});
</script>
</body>
</html>
